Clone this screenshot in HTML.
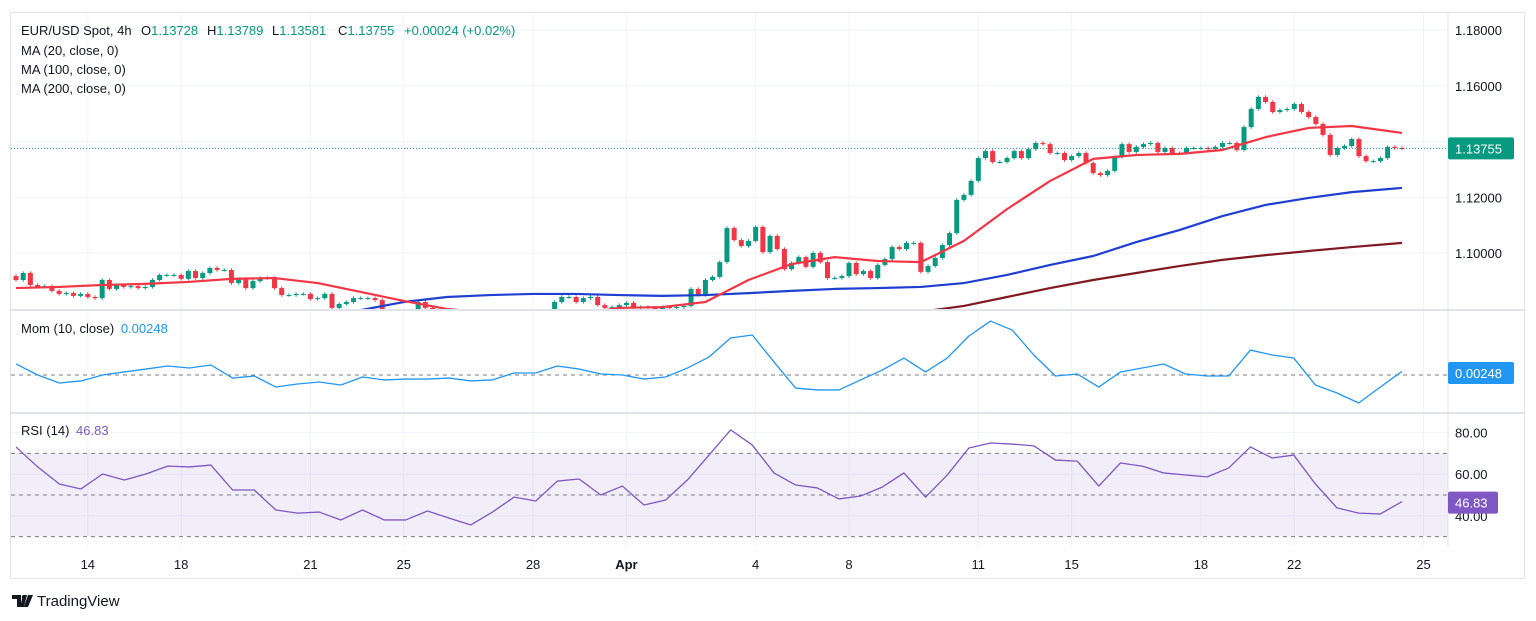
<!DOCTYPE html>
<html><head><meta charset="utf-8"><style>
html,body{margin:0;padding:0;background:#fff;}
svg{display:block;font-family:"Liberation Sans",sans-serif;}
</style></head><body>
<svg id="chart" width="1536" height="621" viewBox="0 0 1536 621" xmlns="http://www.w3.org/2000/svg">
<defs>
<clipPath id="cpMain"><rect x="11" y="12" width="1437" height="297"/></clipPath>
<clipPath id="cpMom"><rect x="11" y="311" width="1437" height="101"/></clipPath>
<clipPath id="cpRsi"><rect x="11" y="414" width="1437" height="132"/></clipPath>
</defs>
<rect x="10.5" y="12.5" width="1514" height="566" fill="#fff" stroke="#e0e3eb"/>
<g id="grid"></g>
<line x1="11" y1="310" x2="1524" y2="310" stroke="#e0e3eb" stroke-width="2"/>
<line x1="11" y1="413" x2="1524" y2="413" stroke="#e0e3eb" stroke-width="2"/>
<rect x="11" y="453" width="1437" height="83" fill="rgba(126,87,194,0.1)"/>
<g id="rsiLevels"></g>
<line x1="11" y1="375" x2="1448" y2="375" stroke="#787b86" stroke-dasharray="4,4"/>
<g id="mainPane" clip-path="url(#cpMain)"></g>
<g id="momPane" clip-path="url(#cpMom)"></g>
<g id="rsiPane" clip-path="url(#cpRsi)"></g>
<g id="axes"></g>

<g font-size="13">
<text x="21" y="35" fill="#131722">EUR/USD Spot, 4h</text>
<text x="141" y="35" fill="#131722">O<tspan fill="#089981">1.13728</tspan></text>
<text x="207" y="35" fill="#131722">H<tspan fill="#089981">1.13789</tspan></text>
<text x="272" y="35" fill="#131722">L<tspan fill="#089981">1.13581</tspan></text>
<text x="338" y="35" fill="#131722">C<tspan fill="#089981">1.13755</tspan></text>
<text x="404" y="35" fill="#089981">+0.00024 (+0.02%)</text>
<text x="21" y="55" fill="#131722">MA (20, close, 0)</text>
<text x="21" y="74" fill="#131722">MA (100, close, 0)</text>
<text x="21" y="93" fill="#131722">MA (200, close, 0)</text>
<text x="21" y="333" fill="#131722">Mom (10, close) <tspan dx="3" fill="#2196f3">0.00248</tspan></text>
<text x="21" y="435" fill="#131722">RSI (14) <tspan dx="3" fill="#7e57c2">46.83</tspan></text>
</g>

<g>
<path d="M12 595h9v12h-4v-8h-5z M23 595h4l-3 12h-4z" fill="#131722"/>
<circle cx="23.5" cy="597" r="1.8" fill="#131722"/>
<path d="M28 595h5l-5 12h-4z" fill="#131722"/>
<text x="37" y="606" font-size="15" fill="#131722">TradingView</text>
</g>
</svg>
<script>
const closes=[1.0904,1.0929,1.0886,1.0879,1.0882,1.0865,1.0854,1.0857,1.0847,1.0854,1.0843,1.0839,1.0904,1.0872,1.0886,1.0879,1.0882,1.0875,1.0879,1.0904,1.0922,1.0922,1.0922,1.0908,1.0936,1.0911,1.0929,1.0947,1.0940,1.0940,1.0893,1.0908,1.0875,1.0900,1.0911,1.0911,1.0875,1.0850,1.0850,1.0854,1.0854,1.0836,1.0839,1.0854,1.0804,1.0818,1.0825,1.0839,1.0839,1.0839,1.0832,1.0789,1.0779,1.0768,1.0775,1.0789,1.0825,1.0804,
1.0782,1.0768,1.0761,1.0750,1.0743,1.0736,1.0725,1.0718,1.0730,1.0745,1.0760,1.0775,1.0770,1.0765,1.0775,1.0785,1.0790,
1.0825,1.0843,1.0843,1.0825,1.0839,1.0843,1.0814,1.0804,1.0807,1.0814,1.0822,1.0804,1.0807,1.0804,1.0800,1.0807,1.0804,1.0807,1.0811,1.0872,1.0850,
1.0904,1.0915,1.0968,1.1090,1.1047,1.1026,1.1044,1.1094,1.1004,1.1062,1.1015,1.0943,1.0965,1.0986,1.0951,1.1001,1.0968,1.0911,1.0911,1.0918,1.0965,1.0925,1.0936,1.0911,1.0958,1.0979,1.1022,1.1015,1.1037,1.1037,1.0933,1.0954,1.0983,1.1029,1.1072,1.1191,1.1209,1.1259,1.1341,1.1366,1.1327,1.1327,1.1341,1.1366,1.1341,1.1373,1.1395,1.1391,1.1359,1.1359,
1.1334,1.1348,1.1359,1.1323,1.1287,1.1280,1.1295,1.1345,1.1391,1.1363,1.1381,1.1391,1.1395,1.1363,1.1377,1.1359,1.1359,1.1377,1.1377,1.1377,1.1373,1.1381,1.1395,1.1395,1.1370,1.1452,1.1517,1.1560,1.1542,1.1506,1.1513,1.1517,1.1535,1.1506,1.1488,1.1463,1.1424,1.1352,1.1377,1.1384,1.1409,1.1348,1.1330,1.1330,1.1341,1.1381,1.1377,1.13755];
const firstOpen=1.0918;
const ma20=[1.0875,1.0879,1.0886,1.0890,1.0897,1.0908,1.0911,1.0893,1.0861,1.0829,1.0800,1.0786,1.0775,1.0779,1.0804,1.0807,1.0825,1.0904,1.0961,1.0986,1.0972,1.0968,1.1044,1.1158,1.1259,1.1338,1.1352,1.1356,1.1370,1.1416,1.1449,1.1456,1.1431];
const ma100=[1.0700,1.0705,1.0712,1.0720,1.0730,1.0742,1.0755,1.0770,1.0796,1.0825,1.0843,1.0850,1.0854,1.0854,1.0850,1.0847,1.0850,1.0857,1.0865,1.0872,1.0875,1.0879,1.0893,1.0922,1.0958,1.0990,1.1040,1.1083,1.1133,1.1173,1.1198,1.1219,1.1234];
const ma200=[1.0620,1.0625,1.0630,1.0635,1.0640,1.0645,1.0650,1.0655,1.0660,1.0665,1.0670,1.0675,1.0680,1.0685,1.0690,1.0698,1.0708,1.0722,1.0738,1.0755,1.0773,1.0790,1.0811,1.0843,1.0875,1.0904,1.0929,1.0954,1.0976,1.0993,1.1008,1.1022,1.1037];
const momVals=[0.0076,0,-0.0055,-0.0041,0,0.0021,0.0041,0.0062,0.0048,0.0069,-0.0021,-0.0007,-0.0083,-0.0062,-0.0048,-0.0069,-0.0014,-0.0034,-0.0028,-0.0028,-0.0021,-0.0041,-0.0034,0.0014,0.0014,0.0062,0.0041,0.0007,0,-0.0028,-0.0014,0.0048,0.0124,0.0255,0.0276,0.0090,-0.0090,-0.0103,-0.0103,-0.0034,0.0034,0.0117,0.0021,0.0117,0.0269,0.0372,0.0310,0.0138,-0.0007,0.0007,-0.0083,0.0021,0.0048,0.0076,0.0007,-0.0007,-0.0007,0.0172,0.0138,0.0117,-0.0069,-0.0124,-0.0193,-0.0083,0.00248];
const rsiVals=[73.1,63.5,55.3,52.9,60.1,57.2,60.1,63.9,63.5,64.4,52.4,52.4,42.8,41.3,41.8,38.0,42.8,38.0,38.0,42.3,38.9,35.6,41.8,49.0,47.1,56.7,57.7,50.0,54.3,45.2,47.6,57.2,69.2,81.3,74.0,60.6,54.8,53.4,48.1,49.5,53.8,60.6,49.0,59.6,72.6,75.0,74.5,73.6,66.8,66.3,54.3,65.4,63.9,60.6,59.6,58.7,63.0,73.1,67.8,69.2,55.3,43.8,41.3,40.9,46.83];
const priceTicks=[1.18,1.16,1.14,1.12,1.10];
const rsiTicks=[80,60,40];
const rsiLevels=[70,50,30];
const dateLabels=["14","18","21","25","28","Apr","4","8","11","15","18","22","25"];
const dateBarIdx=[10,23,41,54,72,85,103,116,134,147,165,178,196];

const NS="http://www.w3.org/2000/svg";
function mk(tag,attrs,parent){const e=document.createElementNS(NS,tag);for(const k in attrs)e.setAttribute(k,attrs[k]);parent.appendChild(e);return e;}
const n=closes.length, X0=16, X1=1402, step=(X1-X0)/(n-1);
const barX=i=>X0+i*step;
const yP=p=>30+(1.18-p)*2790;
const yM=v=>375-v*1450;
const yR=v=>495-(v-50)*2.08;
const main=document.getElementById('mainPane'), mom=document.getElementById('momPane'), rsi=document.getElementById('rsiPane');
const grid=document.getElementById('grid'), axes=document.getElementById('axes'), lv=document.getElementById('rsiLevels');

priceTicks.forEach(p=>{
  const g=mk('line',{x1:11,x2:1448,y1:yP(p),y2:yP(p),stroke:'#f0f3fa'},grid);
  
  
  const t=mk('text',{x:1455,y:yP(p)+5,'font-size':13,fill:'#131722'},axes);
  t.textContent=p.toFixed(5);
  
  
});
rsiTicks.forEach(v=>{
  const g=mk('line',{x1:11,x2:1448,y1:yR(v),y2:yR(v),stroke:'#f0f3fa'},grid);
  
  
  const t=mk('text',{x:1455,y:yR(v)+5,'font-size':13,fill:'#131722'},axes);
  t.textContent=v.toFixed(2);
  
  
});
rsiLevels.forEach(v=>{
  const l=mk('line',{x1:11,x2:1448,y1:yR(v),y2:yR(v),stroke:'#787b86','stroke-dasharray':'4,4'},lv);
  
  
});
dateLabels.forEach((d,i)=>{
  const x=barX(dateBarIdx[i]);
  const g=mk('line',{x1:x,x2:x,y1:13,y2:546,stroke:'#f0f3fa'},grid);
  
  
  const t=mk('text',{x:x,y:569,'font-size':13,fill:'#131722','text-anchor':'middle','font-weight':d==='Apr'?'bold':'normal'},axes);
  t.textContent=d;
  
  
});
mk('line',{x1:1448,x2:1448,y1:13,y2:546,stroke:'#e0e3eb'},axes);

let prev=firstOpen;
closes.forEach((c,i)=>{
  const o=prev; prev=c;
  const up=c>=o, col=up?'#089981':'#f23645', x=barX(i);
  const hi=Math.max(o,c)+0.0006, lo=Math.min(o,c)-0.0006;
  const w=mk('line',{x1:x,x2:x,y1:yP(hi),y2:yP(lo),stroke:col,'stroke-width':1},main);
  
  
  const top=yP(Math.max(o,c)), h=Math.max(1,Math.abs(yP(o)-yP(c)));
  const b=mk('rect',{x:x-2.5,y:top,width:5,height:h,fill:col},main);
  
  
});
function maLine(arr,col,name){
  const last=arr.length-1;
  const pts=arr.map((v,k)=>barX(k===last?n-1:Math.min(k*6,n-1))+','+yP(v)).join(' ');
  const l=mk('polyline',{points:pts,fill:'none',stroke:col,'stroke-width':2.2,'stroke-linejoin':'round'},main);
  
  
}
maLine(ma200,'#801922','ma200-line');
maLine(ma100,'#1f3fd1','ma100-line');
maLine(ma20,'#f23645','ma20-line');
const pl=mk('line',{x1:11,x2:1448,y1:yP(closes[n-1]),y2:yP(closes[n-1]),stroke:'#089981','stroke-dasharray':'1,2'},main);



function osc(arr,yf,col,parent,name){
  const pts=arr.map((v,k)=>(X0+(X1-X0)*k/(arr.length-1))+','+yf(v)).join(' ');
  const l=mk('polyline',{points:pts,fill:'none',stroke:col,'stroke-width':1.3,'stroke-linejoin':'round'},parent);
  
  
}
osc(momVals,yM,'#2196f3',mom,'momentum-line');
osc(rsiVals,yR,'#7e57c2',rsi,'rsi-line');

function badge(y,w,col,txt,name){
  const g=mk('g',{},axes);
  
  
  mk('rect',{x:1448,y:y-11,width:w,height:22,rx:2,fill:col},g);
  const t=mk('text',{x:1455,y:y+5,'font-size':13,fill:'#fff'},g);
  t.textContent=txt;
}
badge(yP(closes[n-1]),66,'#089981',closes[n-1].toFixed(5),'last-price-badge');
badge(373,66,'#2196f3',momVals[momVals.length-1].toFixed(5),'momentum-value-badge');
badge(yR(rsiVals[rsiVals.length-1])+1,50,'#7e57c2',rsiVals[rsiVals.length-1].toFixed(2),'rsi-value-badge');
</script>
</body></html>
